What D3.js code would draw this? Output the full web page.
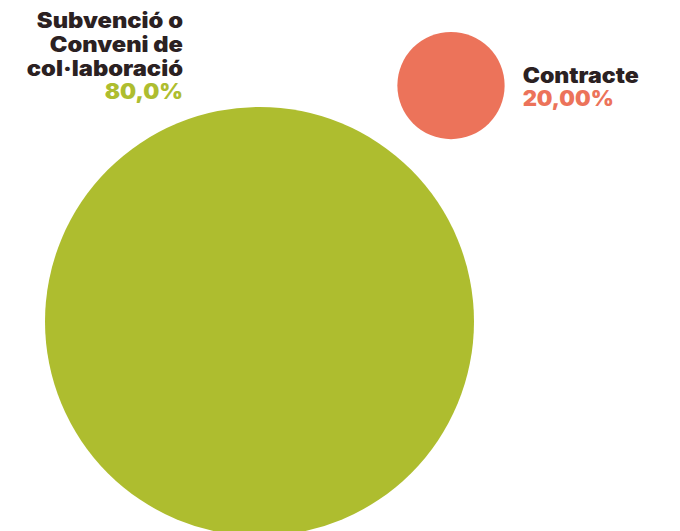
<!DOCTYPE html>
<html>
<head>
<meta charset="utf-8">
<script src="https://cdn.jsdelivr.net/npm/d3@7"></script>
<style>
  html, body { margin: 0; padding: 0; background: #ffffff; }
  svg { display: block; }
  text { font-family: Inter, "Open Sans", sans-serif; font-weight: 900; }
</style>
</head>
<body>
<svg id="chart" width="680" height="531"></svg>
<script>
const categories = ["Subvenció o Conveni de col·laboració", "Contracte"];
const labelLines = [["Subvenció o", "Conveni de", "col·laboració"], ["Contracte"]];
const values = [80, 20];
const valueLabels = ["80,0%", "20,00%"];
const colors = ["#aebd2f", "#ec735a"];

const svg = d3.select("#chart");

// radius proportional to value
const r = d3.scaleLinear().domain([0, 80]).range([0, 214.5]);

// layout anchors (centres)
const centres = [
  { x: 259.5, y: 321.5 },
  { x: 451, y: 85.5 }
];

const data = categories.map((c, i) => ({
  cat: c, value: values[i], label: valueLabels[i], lines: labelLines[i],
  color: colors[i], cx: centres[i].x, cy: centres[i].y
}));

svg.selectAll("circle.bubble")
  .data(data)
  .join("circle")
  .attr("class", "bubble")
  .attr("cx", d => d.cx)
  .attr("cy", d => d.cy)
  .attr("r", d => r(d.value))
  .attr("fill", d => d.color);

const fs = 21, lh = 24;
const dark = "#2b2122";

function label(g, x, y, txt, fill, sx) {
  g.append("text")
    .attr("transform", `translate(${x},${y}) scale(${sx},1)`)
    .attr("font-size", fs).attr("fill", fill).text(txt);
}

// big bubble label: right-aligned, upper-left
const g0 = svg.append("g").attr("text-anchor", "end");
data[0].lines.forEach((t, j) => label(g0, 183, 28 + j * lh, t, dark, 1.13));
label(g0, 183, 28 + data[0].lines.length * lh - 1, data[0].label, data[0].color, 1.08);

// small bubble label: left-aligned, right of bubble
const g1 = svg.append("g").attr("text-anchor", "start");
const x1 = data[1].cx + r(data[1].value) + 18;
data[1].lines.forEach((t, j) => label(g1, x1, 82.5 + j * lh, t, dark, 1.1));
label(g1, x1, 82.5 + data[1].lines.length * lh - 1, data[1].label, data[1].color, 1.05);
</script>
</body>
</html>
